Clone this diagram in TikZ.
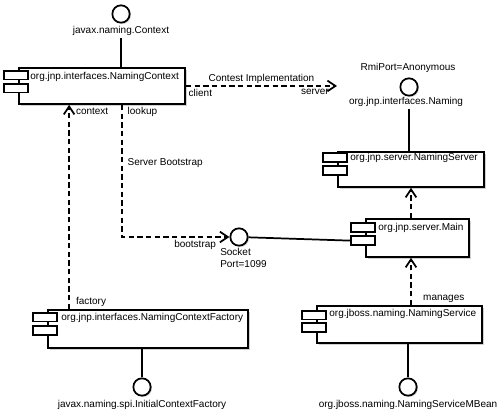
\documentclass[tikz,border=0pt]{standalone}
\usepackage{fontspec}
\setmainfont{Liberation Sans}
\usetikzlibrary{arrows.meta, positioning, calc, shadows}

\begin{document}
\begin{tikzpicture}[
    x=0.75pt, y=-0.75pt,
    font=\fontsize{7.5}{9}\selectfont,
    >={Straight Barb[length=6pt, width=8pt, line width=1.3pt]},
    % --- Component styles ---
    comp/.style={draw, line width=1.3pt, fill=white,
        drop shadow={shadow xshift=1.2pt, shadow yshift=-1.2pt, fill=black!30, opacity=0.6}},
    tabbox/.style={draw, line width=1.3pt, fill=white,
        minimum width=18pt, minimum height=6.4pt, inner sep=0pt},
    ctext/.style={anchor=west, inner sep=0pt},
    % --- Interface styles ---
    iface/.style={circle, draw, line width=1.3pt, fill=white,
        minimum size=13pt, inner sep=0pt,
        drop shadow={shadow xshift=1pt, shadow yshift=-1pt, fill=black!30, opacity=0.6}},
    ilbl/.style={inner sep=1.5pt},
    % --- Connector styles ---
    wire/.style={line width=1.3pt},
    dep/.style={->, line width=1.3pt, dash pattern=on 4pt off 2.5pt},
    flbl/.style={inner sep=1.5pt},
]
\useasboundingbox (0,0) rectangle (500,413);

% =============================================
%  Components
% =============================================
\node[comp, minimum width=124.5pt, minimum height=27pt] (ctx) at (102,86) {};
\node[tabbox] (ctx-a) at ($(ctx.north west)+(-2,8)$) {};
\node[tabbox] (ctx-b) at ($(ctx.north west)+(-2,21)$) {};
\node[ctext] (ctx-t) at ($(ctx.north west)+(12,9.5)$) {org.jnp.interfaces.NamingContext};

\node[comp, minimum width=109.5pt, minimum height=26.25pt] (server) at (411,169.5) {};
\node[tabbox] (server-a) at ($(server.north west)+(-2,6.5)$) {};
\node[tabbox] (server-b) at ($(server.north west)+(-2,19.5)$) {};
\node[ctext] (server-t) at ($(server.north west)+(13,7)$) {org.jnp.server.NamingServer};

\node[comp, minimum width=77.25pt, minimum height=28.5pt] (main) at (417.5,238) {};
\node[tabbox] (main-a) at ($(main.north west)+(-2,9.5)$) {};
\node[tabbox] (main-b) at ($(main.north west)+(-2,22.5)$) {};
\node[ctext] (main-t) at ($(main.north west)+(13,10)$) {org.jnp.server.Main};

\node[comp, minimum width=150pt, minimum height=28.5pt] (fac) at (148,329) {};
\node[tabbox] (fac-a) at ($(fac.north west)+(-2,8)$) {};
\node[tabbox] (fac-b) at ($(fac.north west)+(-2,21.5)$) {};
\node[ctext] (fac-t) at ($(fac.north west)+(14,9)$) {org.jnp.interfaces.NamingContextFactory};

\node[comp, minimum width=123.75pt, minimum height=27.75pt] (svc) at (399.5,324.5) {};
\node[tabbox] (svc-a) at ($(svc.north west)+(-2,10)$) {};
\node[tabbox] (svc-b) at ($(svc.north west)+(-2,22.5)$) {};
\node[ctext] (svc-t) at ($(svc.north west)+(13,9)$) {org.jboss.naming.NamingService};

% =============================================
%  Interfaces
% =============================================
\node[iface] (ictx) at (121,14) {};
\node[ilbl] (ictx-l) at (121,31) {javax.naming.Context};
\draw[wire] (ictx-l.south) -- (ictx-l.south |- ctx.north);

\node[iface] (inam) at (409,87) {};
\node[ilbl] (inam-u) at (408,68) {RmiPort=Anonymous};
\node[ilbl] (inam-l) at (406,102) {org.jnp.interfaces.Naming};
\draw[wire] (inam-l.south -| inam) -- (inam |- server.north);

\node[iface] (socket) at (239,237) {};
\node[ilbl, anchor=north west, align=left, inner sep=0pt] (socket-l) at (220,248)
    {Socket\\Port=1099};
\draw[wire] (socket) -- (main-b.west);

\node[iface] (ifac) at (142,387) {};
\node[ilbl] (ifac-l) at (142,405) {javax.naming.spi.InitialContextFactory};
\draw[wire] (ifac |- fac.south) -- (ifac);

\node[iface] (isvc) at (408,387) {};
\node[ilbl] (isvc-l) at (408,405) {org.jboss.naming.NamingServiceMBean};
\draw[wire] (isvc |- svc.south) -- (isvc);

% =============================================
%  Dependencies
% =============================================
\coordinate (impl) at (337,86);
\draw[dep] (ctx.east) -- (impl)
    node[flbl, midway, above] {Contest Implementation}
    node[flbl, pos=0, anchor=north west] {client}
    node[flbl, pos=1, anchor=north east, xshift=-4pt] {server};

\coordinate (look) at ($(ctx.south west)+(104,0)$);
\draw[dep] (look) |- (socket.west)
    node[flbl, pos=0, anchor=north west, xshift=2pt] {lookup}
    node[flbl, pos=0.22, right, xshift=2pt] {Server Bootstrap}
    node[flbl, pos=0.84, below] {bootstrap};

\coordinate (fac-up) at ($(fac.north west)+(22,0)$);
\draw[dep] (fac-up) -- (fac-up |- ctx.south)
    node[flbl, pos=1, anchor=north west, xshift=3pt] {context}
    node[flbl, pos=0, anchor=south west, xshift=3pt] {factory};

\draw[dep] (server.south |- main.north) -- (server.south);
\draw[dep] (server.south |- svc.north) -- (server.south |- main.south)
    node[flbl, pos=0, anchor=south west, xshift=7pt] {manages};

\end{tikzpicture}
\end{document}
